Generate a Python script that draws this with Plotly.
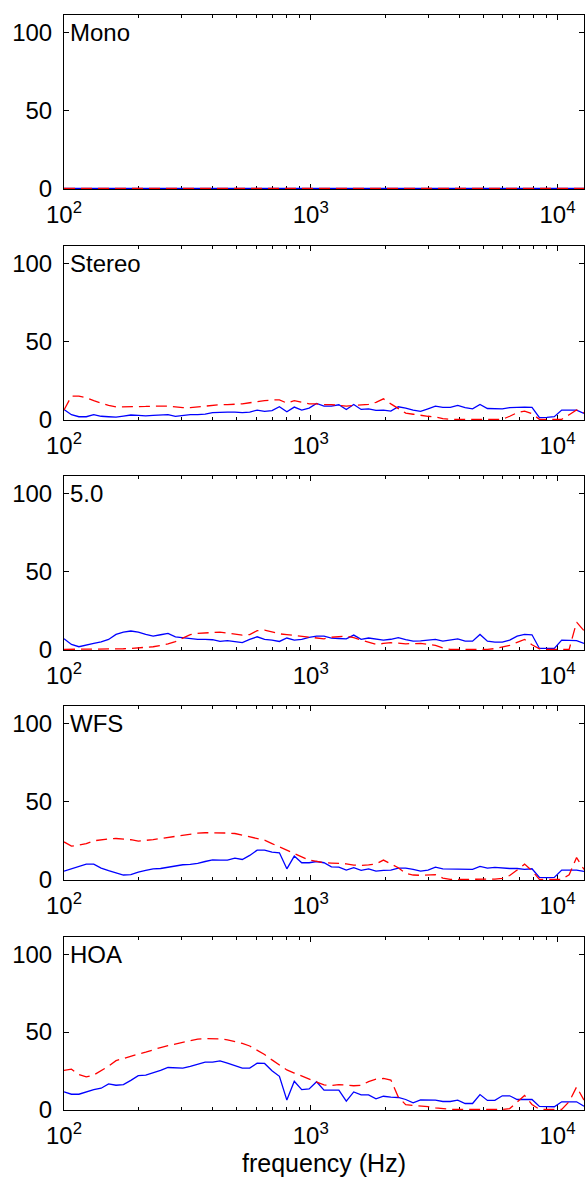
import plotly.graph_objects as go
from plotly.subplots import make_subplots

# 1/10-octave frequency points (Hz)
freqs = [100, 107.2, 114.9, 123.1, 132.0, 141.4, 151.6, 162.5, 174.1, 186.6,
         200, 214.4, 229.7, 246.2, 263.9, 282.8, 303.1, 324.9, 348.2, 373.2,
         400, 428.7, 459.5, 492.5, 527.8, 565.7, 606.3, 649.8, 696.4, 746.4,
         800, 857.4, 919.0, 984.9, 1055.6, 1131.4, 1212.6, 1299.6, 1392.9, 1492.9,
         1600, 1714.8, 1837.9, 1969.8, 2111.2, 2262.7, 2425.1, 2599.2, 2785.8, 2985.7,
         3200, 3429.7, 3675.8, 3939.7, 4222.4, 4525.5, 4850.3, 5198.4, 5571.5, 5971.4,
         6400, 6859.3, 7351.7, 7879.4, 8444.8, 9050.9, 9700.6, 10396.8, 11143.0, 11942.8,
         12800]

panel_names = ["Mono", "Stereo", "5.0", "WFS", "HOA"]

mono_blue = [0.0] * 71
mono_red = [0.0] * 71

stereo_blue = [6.4, 3.0, 1.7, 1.7, 3.0, 2.0, 1.7, 1.5, 2.1, 2.8,
               2.6, 2.3, 2.6, 2.6, 3.0, 1.9, 2.6, 3.0, 3.0, 3.4,
               4.3, 4.7, 4.7, 4.7, 4.3, 4.7, 6.0, 5.1, 5.6, 8.1,
               4.9, 7.9, 6.0, 7.3, 10.3, 8.5, 8.5, 9.4, 6.4, 9.6,
               6.4, 6.8, 5.8, 6.0, 5.3, 8.1, 7.3, 6.0, 5.1, 6.8,
               8.5, 7.7, 7.7, 9.0, 7.5, 6.8, 9.6, 7.0, 6.8, 6.8,
               7.5, 7.9, 7.9, 7.7, 1.1, 1.3, 1.7, 6.0, 6.0, 6.0,
               3.8]
stereo_red = [6.0, 15.0, 15.0, 14.0, 12.0, 10.5, 9.0, 8.0, 8.0, 8.0,
              8.0, 8.3, 8.5, 8.7, 8.5, 8.0, 7.5, 7.5, 8.0, 8.5,
              9.0, 9.5, 9.5, 9.7, 10.0, 10.7, 11.5, 12.0, 12.5, 12.5,
              10.5, 12.0, 11.0, 10.0, 10.0, 9.5, 9.5, 9.0, 8.5, 9.0,
              9.5, 9.6, 11.0, 13.2, 10.0, 7.0, 4.0, 3.3, 2.5, 2.0,
              1.5, 0.5, 0, 0, 0, 0, 0, 0, 0, 0,
              2.0, 4.3, 5.3, 3.6, 0, 0, 0, 0, 3.0, 6.0,
              4.3]

surround_blue = [6.8, 3.2, 1.7, 2.6, 3.8, 4.9, 6.4, 9.6, 11.1, 11.8,
                 11.1, 9.6, 8.5, 9.4, 10.3, 8.1, 7.5, 6.8, 6.4, 6.4,
                 6.2, 5.1, 5.6, 5.0, 4.3, 6.4, 8.1, 6.4, 6.0, 5.1,
                 7.3, 6.0, 6.4, 7.7, 8.5, 8.5, 7.3, 7.0, 6.8, 9.2,
                 6.4, 7.3, 6.8, 6.0, 6.5, 7.5, 6.3, 5.3, 5.5, 6.0,
                 6.4, 5.3, 6.0, 6.8, 5.3, 5.3, 9.6, 5.3, 4.7, 4.7,
                 6.0, 8.5, 9.6, 9.4, 0.6, 0.6, 0.6, 6.0, 5.8, 5.6,
                 3.8]
surround_red = [0, 0, 0, 0, 0, 0, 0, 0.2, 0.4, 0.6,
                0.9, 1.2, 1.7, 2.5, 3.5, 5.0, 7.5, 9.5, 10.3, 10.7,
                11.0, 11.1, 10.5, 9.8, 9.2, 9.5, 12.0, 12.4, 11.0, 10.0,
                9.5, 9.0, 8.5, 7.7, 7.2, 6.8, 7.8, 8.2, 8.5, 7.5,
                6.0, 4.5, 3.2, 3.8, 4.3, 4.0, 3.6, 3.7, 3.8, 3.2,
                2.6, 1.0, 0, 0, 0, 0, 0, 0, 0.5, 1.5,
                2.6, 4.5, 6.4, 3.0, 0.4, 0, 0, 0, 0, 17.5,
                12.0]

wfs_blue = [5.3, 6.8, 8.1, 9.8, 9.8, 7.3, 5.6, 4.3, 2.8, 3.0,
            4.7, 5.8, 6.8, 7.0, 7.9, 8.8, 9.4, 9.6, 10.3, 11.5,
            12.6, 12.4, 12.4, 13.7, 12.8, 15.4, 18.8, 18.8, 17.5, 17.1,
            6.8, 15.0, 10.7, 10.7, 11.5, 10.7, 8.1, 7.9, 6.0, 7.5,
            5.8, 6.8, 5.3, 5.8, 6.0, 7.3, 7.3, 6.4, 5.3, 6.0,
            7.9, 6.8, 6.6, 6.6, 6.6, 6.4, 8.3, 7.3, 7.7, 7.3,
            7.0, 7.0, 6.4, 6.8, 1.3, 1.1, 1.3, 6.0, 6.0, 6.0,
            5.1]
wfs_red = [24.1, 21.4, 22.0, 23.0, 24.8, 25.6, 26.0, 26.3, 26.0, 25.5,
           24.6, 25.0, 25.6, 26.3, 27.0, 27.6, 28.2, 29.0, 29.7, 30.0,
           30.0, 30.0, 29.8, 29.5, 28.5, 27.4, 26.5, 25.2, 23.0, 21.0,
           19.0, 17.0, 14.5, 12.4, 11.5, 10.7, 10.5, 10.3, 10.0, 9.2,
           9.0, 9.3, 10.0, 12.4, 10.0, 7.5, 3.8, 2.8, 2.6, 2.8,
           3.0, 0.8, 0, 0, 0, 0, 0, 0, 0.2, 0.6,
           2.5, 6.0, 9.8, 5.5, 0, 0, 0, 0, 3.0, 14.0,
           6.4]

hoa_blue = [11.3, 9.8, 9.8, 11.5, 12.8, 13.7, 16.5, 15.6, 16.0, 18.8,
            21.8, 22.2, 23.5, 25.2, 27.1, 27.1, 26.7, 27.8, 29.3, 30.6,
            30.6, 31.4, 29.9, 28.2, 26.7, 26.7, 29.9, 29.7, 25.0, 21.4,
            6.0, 18.2, 12.8, 13.2, 17.9, 12.4, 12.4, 12.4, 5.3, 11.3,
            9.4, 9.4, 6.8, 8.5, 7.9, 7.7, 6.4, 4.3, 6.2, 6.0,
            6.0, 5.1, 5.1, 6.0, 3.8, 3.8, 9.6, 5.8, 5.8, 8.8,
            8.8, 6.4, 6.4, 6.4, 1.9, 1.7, 1.7, 4.9, 4.9, 4.9,
            2.1]
hoa_red = [25.2, 26.0, 22.5, 21.0, 22.2, 25.0, 28.0, 31.5, 33.0, 34.6,
           35.8, 37.0, 38.6, 40.0, 41.2, 42.3, 43.3, 44.8, 45.5, 45.8,
           45.9, 45.6, 45.0, 44.0, 42.7, 41.0, 38.5, 35.5, 32.0, 28.5,
           25.5, 23.5, 21.5, 19.5, 17.5, 15.8, 15.5, 16.0, 15.8, 15.3,
           15.5, 18.0, 19.5, 20.0, 19.0, 8.0, 3.0, 2.7, 2.3, 1.8,
           1.0, 0.5, 0, 0, 0, 0, 0, 0, 0, 0,
           0.5, 4.5, 9.0, 3.2, 0, 0, 0, 0, 5.0, 14.5,
           6.0]

blue_series = [mono_blue, stereo_blue, surround_blue, wfs_blue, hoa_blue]
red_series = [mono_red, stereo_red, surround_red, wfs_red, hoa_red]

x_major = [100, 1000, 10000]
x_major_text = ["10<sup>2</sup>", "10<sup>3</sup>", "10<sup>4</sup>"]
x_minor = [200, 300, 400, 500, 600, 700, 800, 900,
           2000, 3000, 4000, 5000, 6000, 7000, 8000, 9000]
y_ticks = [0, 50, 100]

W, H = 585, 1190
tops = [15, 246, 476, 706, 937]
bottoms = [189, 420, 650, 880, 1110]
FONT = "Liberation Sans, Arial, Helvetica, sans-serif"

fig = make_subplots(rows=5, cols=1)

for i in range(5):
    r = i + 1
    fig.add_trace(go.Scatter(x=freqs, y=blue_series[i], mode="lines",
                             line=dict(color="#0000ff", width=1.3),
                             showlegend=False), row=r, col=1)
    fig.add_trace(go.Scatter(x=freqs, y=red_series[i], mode="lines",
                             line=dict(color="#ff0000", width=1.3, dash="11px,6px"),
                             showlegend=False), row=r, col=1)
    xa = "xaxis" if i == 0 else f"xaxis{r}"
    ya = "yaxis" if i == 0 else f"yaxis{r}"
    fig.layout[xa].update(
        type="log", range=[2, 4.10721], domain=[64 / W, 584 / W],
        tickmode="array", tickvals=x_major, ticktext=x_major_text,
        ticks="inside", ticklen=5, tickcolor="black", tickwidth=1,
        minor=dict(tickmode="array", tickvals=x_minor, ticks="inside",
                   ticklen=3, tickcolor="black", tickwidth=1, showgrid=False),
        showline=True, linecolor="black", linewidth=1, mirror="allticks",
        showgrid=False, zeroline=False, layer="below traces",
        tickfont=dict(family=FONT, size=24, color="black"),
        ticklabelstandoff=4, automargin=False,
    )
    fig.layout[ya].update(
        range=[-0.4, 111.5],
        domain=[1 - bottoms[i] / H, 1 - tops[i] / H],
        tickmode="array", tickvals=y_ticks,
        ticks="inside", ticklen=5, tickcolor="black", tickwidth=1,
        showline=True, linecolor="black", linewidth=1, mirror="allticks",
        showgrid=False, zeroline=False, layer="below traces",
        tickfont=dict(family=FONT, size=24, color="black"),
        ticklabelstandoff=6, automargin=False,
    )
    xref = "x domain" if i == 0 else f"x{r} domain"
    yref = "y domain" if i == 0 else f"y{r} domain"
    fig.add_annotation(text=panel_names[i], xref=xref, yref=yref,
                       x=0, y=1, xanchor="left", yanchor="top",
                       xshift=4, yshift=-2, showarrow=False,
                       font=dict(family=FONT, size=24, color="black"))

fig.layout["xaxis5"].update(
    title=dict(text="frequency (Hz)", font=dict(family=FONT, size=25, color="black"),
               standoff=6))

fig.update_layout(width=W, height=H, margin=dict(l=0, r=0, t=0, b=0),
                  paper_bgcolor="white", plot_bgcolor="white",
                  showlegend=False)

fig.write_html("out.html")
